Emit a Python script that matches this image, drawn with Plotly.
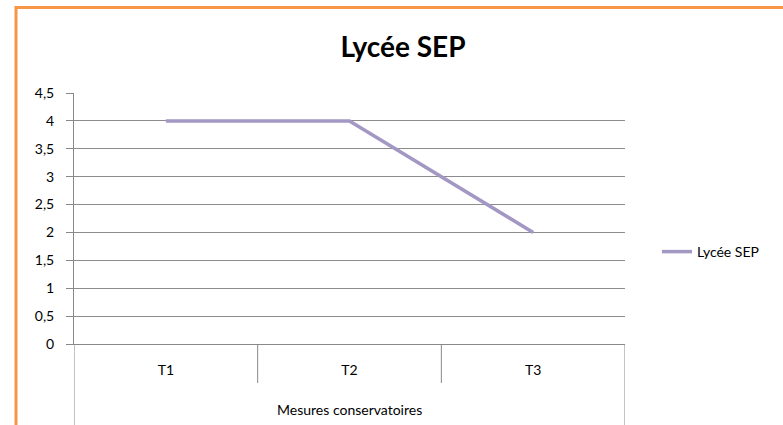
import plotly.graph_objects as go

group_label = "Mesures conservatoires"
categories = ["T1", "T2", "T3"]
values = [4, 4, 2]
series_name = "Lycée SEP"
chart_title = "Lycée SEP"

W, H = 783, 425
L, R, T, B = 74, 158, 93, 81
pw, ph = W - L - R, H - T - B
AX = "#888888"

fig = go.Figure()
fig.add_trace(go.Scatter(
    x=categories,
    y=values,
    mode="lines",
    name=series_name,
    line=dict(color="#A397C4", width=3.5),
))

n = len(categories)
shapes = []
# category dividers below the axis
for i in range(n + 1):
    outer = i in (0, n)
    shapes.append(dict(
        type="line", xref="x", yref="paper",
        x0=i - 0.5, x1=i - 0.5,
        y0=0, y1=-(B + 5) / ph if outer else -39 / ph,
        line=dict(color=AX, width=1),
        layer="above",
    ))
# orange chart border
shapes.append(dict(
    type="rect", xref="paper", yref="paper",
    x0=(16 - L) / pw, x1=(W + 20 - L) / pw,
    y0=(H - B - (H + 20)) / ph, y1=(H - B - 7.5) / ph,
    line=dict(color="#F79646", width=3),
    fillcolor="rgba(0,0,0,0)",
    layer="above",
))

fig.update_layout(
    width=W, height=H,
    margin=dict(l=L, r=R, t=T, b=B, pad=0),
    paper_bgcolor="white",
    plot_bgcolor="white",
    separators=", ",
    font=dict(family="Lato, Carlito, Calibri, sans-serif", size=14, color="black"),
    title=dict(
        text="<b>" + chart_title + "</b>",
        x=403 / W, xanchor="center",
        y=1 - 47 / H, yanchor="middle",
        font=dict(size=28, color="black"),
    ),
    showlegend=True,
    legend=dict(
        x=(657 - L) / pw, xanchor="left",
        y=(H - B - 252) / ph, yanchor="middle",
        font=dict(size=14),
        bgcolor="rgba(0,0,0,0)",
    ),
    xaxis=dict(
        type="category",
        range=[-0.5, n - 0.5],
        showline=True, linecolor=AX, linewidth=1,
        showgrid=False,
        ticks="",
        ticklabelstandoff=13,
        tickfont=dict(size=14),
        automargin=False,
        fixedrange=True,
    ),
    yaxis=dict(
        range=[0, 4.5],
        dtick=0.5,
        tick0=0,
        showgrid=True, gridcolor="#8C8C8C", gridwidth=1,
        showline=True, linecolor=AX, linewidth=1,
        ticks="outside", ticklen=7, tickcolor=AX,
        ticklabelstandoff=9,
        zeroline=False,
        tickfont=dict(size=14),
        automargin=False,
        fixedrange=True,
    ),
    annotations=[dict(
        text=group_label, xref="paper", yref="paper",
        x=0.5, y=-(409 - (H - B)) / ph,
        xanchor="center", yanchor="middle",
        showarrow=False, font=dict(size=14),
    )],
    shapes=shapes,
)

fig.write_html(
    "out.html",
    config={"displayModeBar": False},
    post_script="document.body.style.margin='0';",
)
